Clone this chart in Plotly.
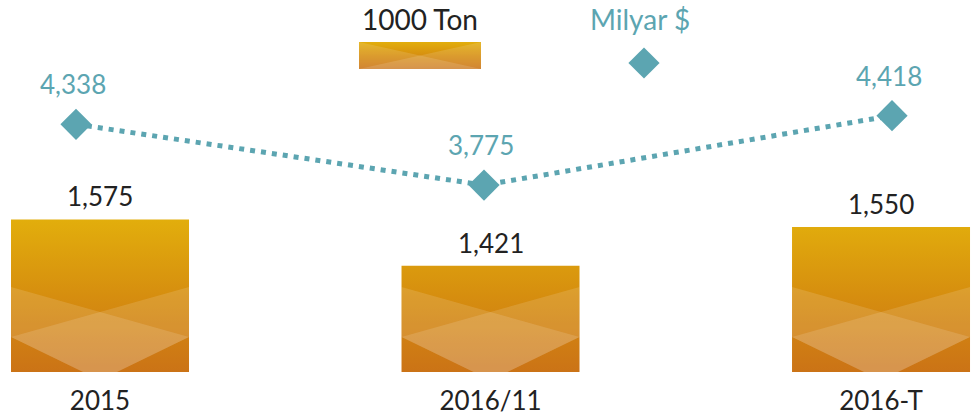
import plotly.graph_objects as go

# Veriler
categories = ["2015", "2016/11", "2016-T"]
ton_values = [1575, 1421, 1550]        # 1000 Ton
usd_values = [4338, 3775, 4418]        # Milyar $
ton_labels = ["1,575", "1,421", "1,550"]
usd_labels = ["4,338", "3,775", "4,418"]

# Renkler / yerlesim
TEAL = "rgb(92,165,177)"
DARK = "rgb(34,34,34)"
GOLD_SCALE = [[0.0, "rgb(203,115,22)"], [0.5, "rgb(214,142,15)"], [1.0, "rgb(226,174,12)"]]
FONT = "Lato"

W, H = 971, 418
PLOT_H = 372
X_RANGE = [-0.2561, 2.2304]       # bar axis
Y_RANGE = [1069.4, 2301.8]
X2_RANGE = [-0.1863, 2.1936]      # line axis
Y2_RANGE = [2044.3, 5488.8]
BAR_W = 0.4558

px_x = W / (X_RANGE[1] - X_RANGE[0])
px_y = PLOT_H / (Y_RANGE[1] - Y_RANGE[0])


def dy(p):
    # piksel -> veri (y)
    return p / px_y


def dx(p):
    return p / px_x


fig = go.Figure()

# Cubuklar: tek iz, dikey gradyan
bx, by = [], []
base = Y_RANGE[0]
for i, v in enumerate(ton_values):
    l, r = i - BAR_W / 2, i + BAR_W / 2
    bx += [l, r, r, l, l, None]
    by += [base, base, v, v, base, None]
fig.add_trace(go.Scatter(
    x=bx, y=by, mode="lines", fill="toself", line=dict(width=0),
    fillgradient=dict(type="vertical", colorscale=GOLD_SCALE,
                      start=base, stop=max(ton_values)),
    hoverinfo="skip", showlegend=False))

# Parlama deseni (capraz acik bolgeler)
for side in (1, -1):
    ox, oy = [], []
    for i, v in enumerate(ton_values):
        l, r, c = i - BAR_W / 2, i + BAR_W / 2, i
        if side == 1:
            pts = [(l, 85), (r, 35), (c + dx(17), 0), (c - dx(17), 0), (l, 35), (l, 85)]
        else:
            pts = [(r, 85), (l, 35), (c - dx(17), 0), (c + dx(17), 0), (r, 35), (r, 85)]
        for px_, py_ in pts:
            ox.append(px_)
            oy.append(base + dy(py_))
        ox.append(None)
        oy.append(None)
    fig.add_trace(go.Scatter(
        x=ox, y=oy, mode="lines", fill="toself", line=dict(width=0),
        fillcolor="rgba(255,255,255,0.13)", hoverinfo="skip", showlegend=False))

# Cizgi (Milyar $)
fig.add_trace(go.Scatter(
    x=list(range(len(categories))), y=usd_values, xaxis="x2", yaxis="y2",
    mode="lines+markers",
    line=dict(color=TEAL, width=5, dash="5px,6px"),
    marker=dict(symbol="diamond", size=24, color=TEAL),
    hoverinfo="skip", showlegend=False))

annotations = []
for i, (v, t) in enumerate(zip(ton_values, ton_labels)):
    annotations.append(dict(x=i, y=v, xref="x", yref="y", text=t, showarrow=False,
                            yanchor="middle", yshift=23,
                            font=dict(family=FONT, size=26, color=DARK)))
for i, (v, t) in enumerate(zip(usd_values, usd_labels)):
    annotations.append(dict(x=i, y=v, xref="x2", yref="y2", text=t, showarrow=False,
                            yanchor="middle", yshift=40, xshift=-3,
                            font=dict(family=FONT, size=26, color=TEAL)))

# Ozel gosterge (metin ustte, sembol altta) - piksel eksenleri
lx0, lx1, ly0, ly1 = 359, 481, 42, 69
lc = (lx0 + lx1) / 2
fig.add_trace(go.Scatter(
    x=[lx0, lx1, lx1, lx0, lx0], y=[ly1, ly1, ly0, ly0, ly1], xaxis="x3", yaxis="y3",
    mode="lines", fill="toself", line=dict(width=0),
    fillgradient=dict(type="vertical", colorscale=GOLD_SCALE),
    hoverinfo="skip", showlegend=False))
for tri in ([(lx0, ly0), (lx1, ly1), (lx0, ly1)], [(lx1, ly0), (lx0, ly1), (lx1, ly1)]):
    fig.add_trace(go.Scatter(
        x=[p[0] for p in tri] + [tri[0][0]], y=[p[1] for p in tri] + [tri[0][1]],
        xaxis="x3", yaxis="y3", mode="lines", fill="toself", line=dict(width=0),
        fillcolor="rgba(255,255,255,0.13)", hoverinfo="skip", showlegend=False))
fig.add_trace(go.Scatter(
    x=[644], y=[63], xaxis="x3", yaxis="y3", mode="markers",
    marker=dict(symbol="diamond", size=24, color=TEAL),
    hoverinfo="skip", showlegend=False))
annotations.append(dict(x=lc, y=19, xref="x3", yref="y3", text="1000 Ton", showarrow=False,
                        font=dict(family=FONT, size=28, color=DARK)))
annotations.append(dict(x=640, y=19, xref="x3", yref="y3", text="Milyar $", showarrow=False,
                        font=dict(family=FONT, size=28, color=TEAL)))

hidden = dict(visible=False, fixedrange=True)
fig.update_layout(
    width=W, height=H,
    margin=dict(l=0, r=0, t=0, b=H - PLOT_H),
    paper_bgcolor="white", plot_bgcolor="white",
    showlegend=False,
    xaxis=dict(range=X_RANGE, tickvals=list(range(len(categories))), ticktext=categories,
               showgrid=False, zeroline=False, showline=False, ticks="",
               ticklabelstandoff=11,
               tickfont=dict(family=FONT, size=26, color=DARK), fixedrange=True),
    yaxis=dict(range=Y_RANGE, **hidden),
    xaxis2=dict(range=X2_RANGE, overlaying="x", **hidden),
    yaxis2=dict(range=Y2_RANGE, overlaying="y", **hidden),
    xaxis3=dict(range=[0, W], overlaying="x", **hidden),
    yaxis3=dict(range=[PLOT_H, 0], overlaying="y", **hidden),
    annotations=annotations,
)

fig.write_html("out.html", config={"displayModeBar": False},
               post_script="document.body.style.margin='0';")
